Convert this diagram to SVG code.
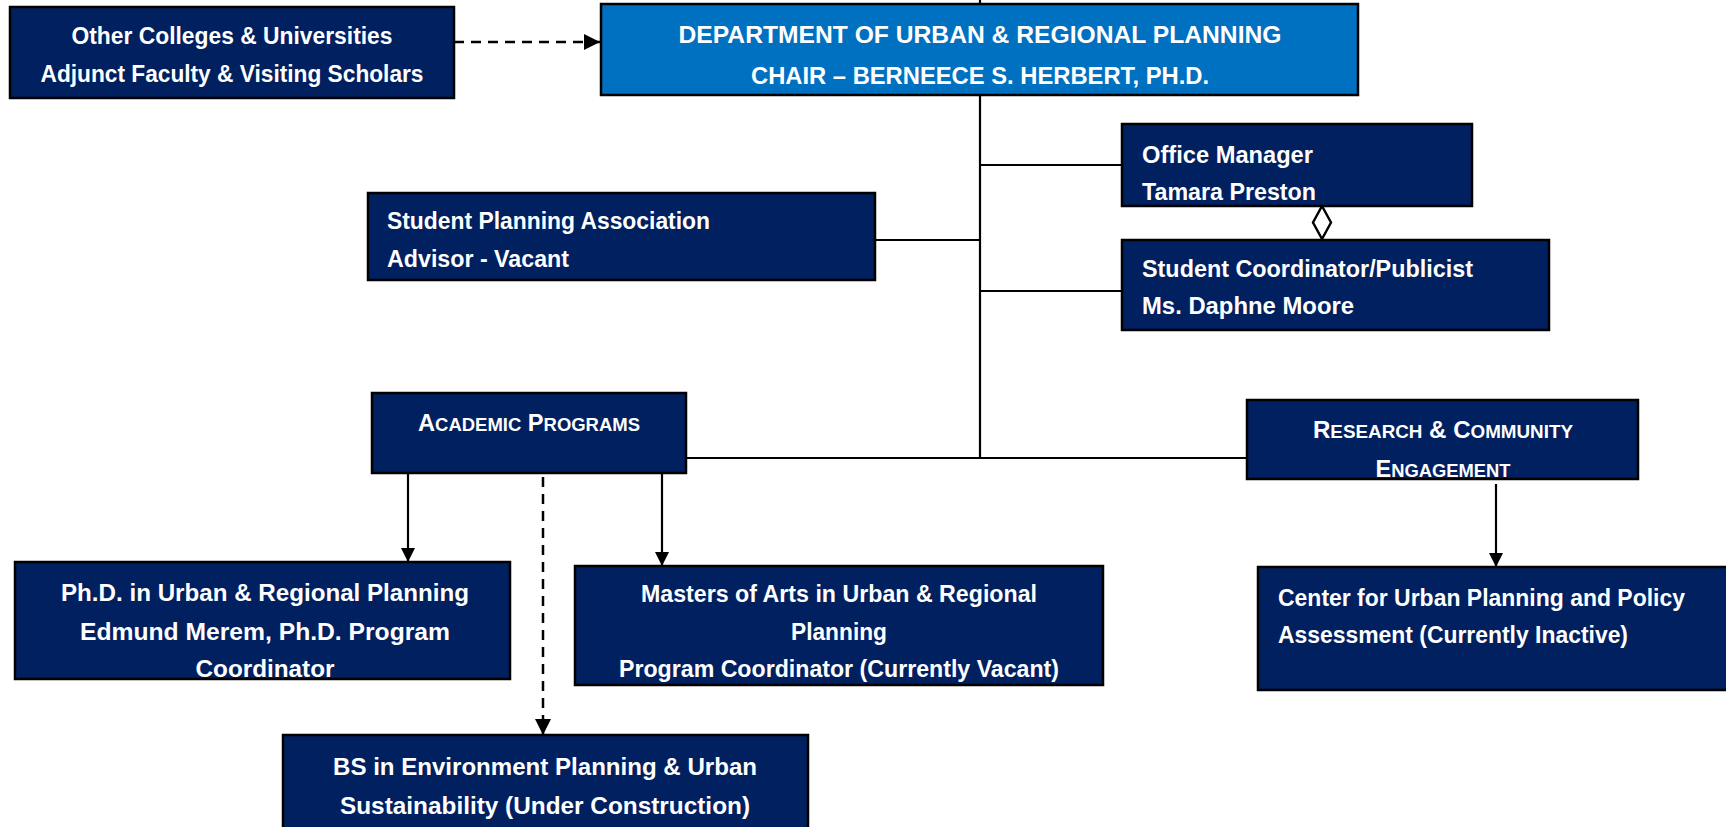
<svg xmlns="http://www.w3.org/2000/svg" width="1726" height="827" viewBox="0 0 1726 827">
<style>
.box{fill:#002060;stroke:#000;stroke-width:2.5}
.dept{fill:#0070C0;stroke:#000;stroke-width:2.5}
.t{fill:#fff;font-family:"Liberation Sans",Arial,sans-serif;font-weight:bold;font-size:23px}
.c{text-anchor:middle}
.ln{stroke:#000;stroke-width:2.2;fill:none}
.dash{stroke:#000;stroke-width:2.5;fill:none;stroke-dasharray:10 7}
</style>
<defs>
<marker id="arr" viewBox="0 0 10 10" refX="10" refY="5" markerWidth="6.5" markerHeight="6.5" markerUnits="strokeWidth" orient="auto">
<path d="M0,0 L10,5 L0,10 Z" fill="#000"/>
</marker>
</defs>
<rect width="1726" height="827" fill="#fff"/>
<g id="connectors">
<line class="ln" x1="980" y1="0" x2="980" y2="458"/>
<line class="ln" x1="980" y1="165" x2="1122" y2="165"/>
<line class="ln" x1="980" y1="291" x2="1122" y2="291"/>
<line class="ln" x1="875" y1="240" x2="980" y2="240"/>
<line class="ln" x1="686" y1="458" x2="1247" y2="458"/>
<line class="dash" x1="454" y1="42" x2="600" y2="42" marker-end="url(#arr)"/>
<line class="ln" x1="408" y1="473" x2="408" y2="562" marker-end="url(#arr)"/>
<line class="ln" x1="662" y1="473" x2="662" y2="566" marker-end="url(#arr)"/>
<line class="dash" x1="543" y1="477" x2="543" y2="735" marker-end="url(#arr)"/>
<line class="ln" x1="1496" y1="484" x2="1496" y2="567" marker-end="url(#arr)"/>
<path d="M1322,206 L1331,222.5 L1322,239 L1313,222.5 Z" fill="#fff" stroke="#000" stroke-width="2.4"/>
</g>
<g id="other">
<rect class="box" x="10" y="7" width="444" height="91"/>
<text class="t c" x="232" y="44" textLength="321" lengthAdjust="spacingAndGlyphs">Other Colleges &amp; Universities</text>
<text class="t c" x="232" y="82" textLength="383" lengthAdjust="spacingAndGlyphs">Adjunct Faculty &amp; Visiting Scholars</text>
</g>
<g id="dept">
<rect class="dept" x="601" y="4" width="757" height="91"/>
<text class="t c" x="980" y="43" textLength="603" lengthAdjust="spacingAndGlyphs">DEPARTMENT OF URBAN &amp; REGIONAL PLANNING</text>
<text class="t c" x="980" y="84" textLength="458" lengthAdjust="spacingAndGlyphs">CHAIR – BERNEECE S. HERBERT, PH.D.</text>
</g>
<g id="office">
<rect class="box" x="1122" y="124" width="350" height="82"/>
<text class="t" x="1142" y="163" textLength="171" lengthAdjust="spacingAndGlyphs">Office Manager</text>
<text class="t" x="1142" y="200" textLength="174" lengthAdjust="spacingAndGlyphs">Tamara Preston</text>
</g>
<g id="coord">
<rect class="box" x="1122" y="240" width="427" height="90"/>
<text class="t" x="1142" y="277" textLength="331" lengthAdjust="spacingAndGlyphs">Student Coordinator/Publicist</text>
<text class="t" x="1142" y="314" textLength="212" lengthAdjust="spacingAndGlyphs">Ms. Daphne Moore</text>
</g>
<g id="spa">
<rect class="box" x="368" y="193" width="507" height="87"/>
<text class="t" x="387" y="229" textLength="323" lengthAdjust="spacingAndGlyphs">Student Planning Association</text>
<text class="t" x="387" y="267" textLength="182" lengthAdjust="spacingAndGlyphs">Advisor - Vacant</text>
</g>
<g id="academic">
<rect class="box" x="372" y="393" width="314" height="80"/>
<text class="t c" x="529" y="431" textLength="222" lengthAdjust="spacingAndGlyphs">A<tspan font-size="18">CADEMIC</tspan> P<tspan font-size="18">ROGRAMS</tspan></text>
</g>
<g id="research">
<rect class="box" x="1247" y="400" width="391" height="79"/>
<text class="t c" x="1443" y="438" textLength="260" lengthAdjust="spacingAndGlyphs">R<tspan font-size="18">ESEARCH</tspan> &amp; C<tspan font-size="18">OMMUNITY</tspan></text>
<text class="t c" x="1443" y="477" textLength="135" lengthAdjust="spacingAndGlyphs">E<tspan font-size="18">NGAGEMENT</tspan></text>
</g>
<g id="phd">
<rect class="box" x="15" y="562" width="495" height="117"/>
<text class="t c" x="265" y="601" textLength="408" lengthAdjust="spacingAndGlyphs">Ph.D. in Urban &amp; Regional Planning</text>
<text class="t c" x="265" y="640" textLength="370" lengthAdjust="spacingAndGlyphs">Edmund Merem, Ph.D. Program</text>
<text class="t c" x="265" y="677" textLength="139" lengthAdjust="spacingAndGlyphs">Coordinator</text>
</g>
<g id="masters">
<rect class="box" x="575" y="566" width="528" height="119"/>
<text class="t c" x="839" y="602" textLength="396" lengthAdjust="spacingAndGlyphs">Masters of Arts in Urban &amp; Regional</text>
<text class="t c" x="839" y="640" textLength="96" lengthAdjust="spacingAndGlyphs">Planning</text>
<text class="t c" x="839" y="677" textLength="440" lengthAdjust="spacingAndGlyphs">Program Coordinator (Currently Vacant)</text>
</g>
<g id="bs">
<rect class="box" x="283" y="735" width="525" height="100"/>
<text class="t c" x="545" y="775" textLength="424" lengthAdjust="spacingAndGlyphs">BS in Environment Planning &amp; Urban</text>
<text class="t c" x="545" y="814" textLength="410" lengthAdjust="spacingAndGlyphs">Sustainability (Under Construction)</text>
</g>
<g id="center">
<rect class="box" x="1258" y="567" width="480" height="123"/>
<text class="t" x="1278" y="606" textLength="407" lengthAdjust="spacingAndGlyphs">Center for Urban Planning and Policy</text>
<text class="t" x="1278" y="643" textLength="350" lengthAdjust="spacingAndGlyphs">Assessment (Currently Inactive)</text>
</g>
</svg>
